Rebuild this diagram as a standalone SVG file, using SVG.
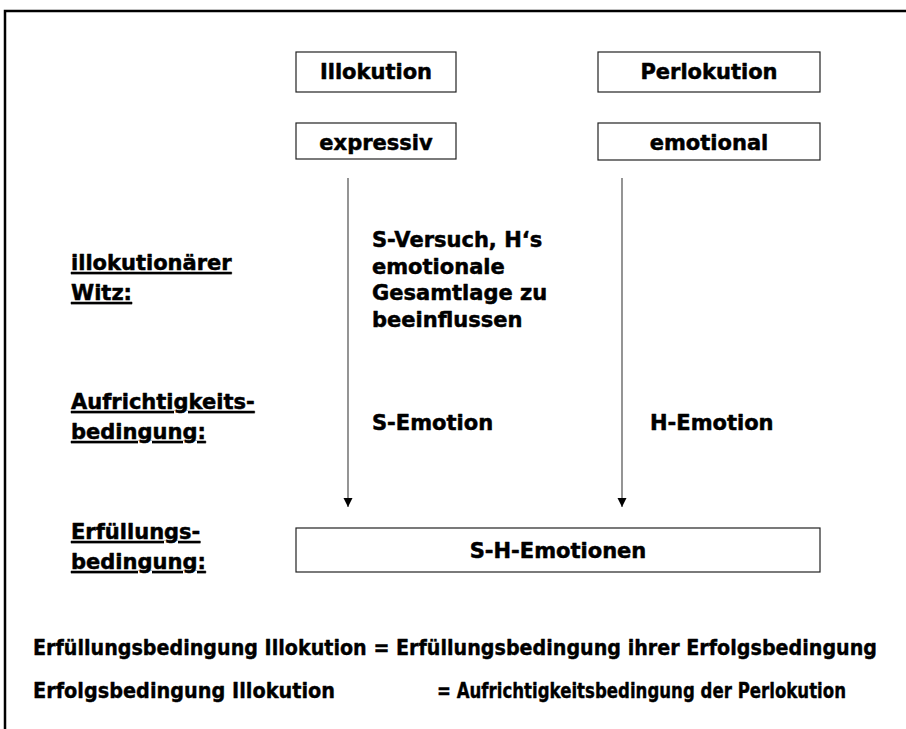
<svg xmlns="http://www.w3.org/2000/svg" width="906" height="729" viewBox="0 0 906 729">
<style>
text{font-family:"DejaVu Sans","Liberation Sans",sans-serif;font-weight:bold;fill:#000;font-size:21px;stroke:#000;stroke-width:0.5;stroke-linejoin:round}
.c{text-anchor:middle}
.u{text-decoration:underline}
.box{fill:#fff;stroke:#222;stroke-width:1.2}
.conn{stroke:#7a7a7a;stroke-width:1.6;fill:none}
.bot{font-size:21px;stroke-width:0.4}
</style>
<defs>
<marker id="ah" markerWidth="10" markerHeight="10" refX="9" refY="5" orient="auto" markerUnits="userSpaceOnUse" viewBox="0 0 10 10">
<path d="M0,0.5 L9,5 L0,9.5 Z" fill="#000"/>
</marker>
</defs>
<rect width="906" height="729" fill="#fff"/>
<path d="M5,729 V11 H906" fill="none" stroke="#000" stroke-width="2.5"/>
<g id="illokution"><rect class="box" x="296" y="52" width="160" height="40"/><text class="c" x="376" y="79">Illokution</text></g>
<g id="perlokution"><rect class="box" x="598" y="52" width="222" height="40"/><text class="c" x="709" y="79">Perlokution</text></g>
<g id="expressiv"><rect class="box" x="296" y="123" width="160" height="36"/><text class="c" x="376" y="150">expressiv</text></g>
<g id="emotional"><rect class="box" x="598" y="123" width="222" height="37"/><text class="c" x="709" y="150">emotional</text></g>
<g id="sh-emotionen"><rect class="box" x="296" y="528" width="524" height="44"/><text class="c" x="558" y="558">S-H-Emotionen</text></g>
<g id="label-witz"><text class="u" x="71" y="270">illokutionärer</text><text class="u" x="71" y="300">Witz:</text></g>
<g id="label-aufrichtigkeit"><text class="u" x="71" y="409">Aufrichtigkeits-</text><text class="u" x="71" y="439">bedingung:</text></g>
<g id="label-erfuellung"><text class="u" x="71" y="539">Erfüllungs-</text><text class="u" x="71" y="569">bedingung:</text></g>
<g id="witz-text"><text x="372" y="247">S-Versuch, H‘s</text><text x="372" y="274">emotionale</text><text x="372" y="300">Gesamtlage zu</text><text x="372" y="327">beeinflussen</text></g>
<g id="s-emotion"><text x="372" y="430">S-Emotion</text></g>
<g id="h-emotion"><text x="650" y="430">H-Emotion</text></g>
<g id="connectors">
<line class="conn" x1="348" y1="178" x2="348" y2="507" marker-end="url(#ah)"/>
<line class="conn" x1="622" y1="178" x2="622" y2="507" marker-end="url(#ah)"/>
</g>
<g id="footer">
<text class="bot" x="33" y="655" textLength="844" lengthAdjust="spacingAndGlyphs">Erfüllungsbedingung Illokution = Erfüllungsbedingung ihrer Erfolgsbedingung</text>
<text class="bot" x="33" y="698" textLength="302" lengthAdjust="spacingAndGlyphs">Erfolgsbedingung Illokution</text>
<text class="bot" x="437" y="698" textLength="409" lengthAdjust="spacingAndGlyphs">= Aufrichtigkeitsbedingung der Perlokution</text>
</g>
</svg>
